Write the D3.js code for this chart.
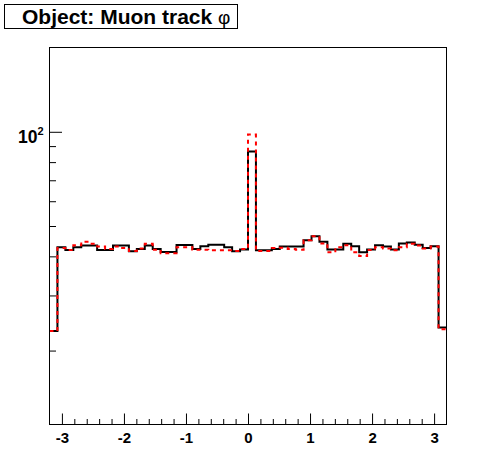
<!DOCTYPE html>
<html>
<head>
<meta charset="utf-8">
<script src="https://cdn.jsdelivr.net/npm/d3@7"></script>
<style>
  body { margin: 0; background: #fff; }
  svg { display: block; }
  .axis text { font-family: "Liberation Sans", Arial, sans-serif; font-weight: bold; fill: #000; }
</style>
</head>
<body>
<div id="chart"></div>
<script>
// 50 bins from -3.2 to 3.2
var binLow = -3.2;
var binHigh = 3.2;
var nBins = 50;

// black (solid) histogram contents
var blackCounts = [23.1, 42.8, 41.9, 42.8, 43.3, 43.3, 41.9, 41.9, 43.3, 43.3,
  41.5, 42.2, 43.3, 42.2, 41.3, 41.3, 43.5, 43.5, 42.2, 43.1,
  43.6, 43.6, 42.8, 41.5, 42.1, 86.5, 41.8, 41.8, 42.2, 43.0,
  43.0, 43.0, 45.0, 46.4, 44.5, 42.1, 42.1, 43.9, 43.1, 41.2,
  42.1, 43.4, 43.0, 42.1, 44.0, 44.3, 43.6, 42.5, 43.1, 23.7];

// red (dashed) histogram contents
var redCounts = [23.1, 42.5, 41.9, 43.4, 44.5, 43.9, 43.0, 42.2, 43.0, 42.5,
  41.6, 42.4, 43.9, 42.0, 40.9, 40.9, 42.8, 42.8, 42.0, 42.0,
  41.8, 41.8, 41.8, 41.6, 42.2, 98.0, 41.6, 41.6, 42.5, 42.6,
  42.2, 42.0, 45.0, 46.4, 44.0, 41.2, 42.8, 43.4, 41.2, 40.1,
  41.9, 42.8, 42.4, 41.8, 42.8, 43.9, 43.3, 42.4, 43.0, 23.4];

var xMajorTicks = [-3, -2, -1, 0, 1, 2, 3];
var yMajorTicks = [100];
var yMinorTicks = [20, 30, 40, 50, 60, 70, 80, 90];
var yRange = [11.61, 185.9];
var titleText = "Object: Muon track ";

var svgWidth = 496;
var svgHeight = 472;
var frame = { left: 49.5, right: 446.5, top: 47.5, bottom: 424.5 };

var svg = d3.select("#chart")
  .append("svg")
  .attr("width", svgWidth)
  .attr("height", svgHeight);

var xScale = d3.scaleLinear()
  .domain([binLow, binHigh])
  .range([frame.left, frame.right]);

var yScale = d3.scaleLog()
  .domain(yRange)
  .range([frame.bottom, frame.top]);

var xMinorTicks = d3.range(-32, 33, 2).map(d => d / 10)
  .filter(d => xMajorTicks.indexOf(Math.round(d * 10) / 10) < 0 && d > binLow && d < binHigh);

// x axis: major + minor ticks pointing into the frame
var xAxisMajor = svg.append("g")
  .attr("class", "axis")
  .attr("transform", `translate(0, ${frame.bottom})`)
  .call(d3.axisBottom(xScale)
    .tickValues(xMajorTicks)
    .tickSize(-11)
    .tickPadding(7.5)
    .tickFormat(d => String(d)));
xAxisMajor.select(".domain").remove();
xAxisMajor.selectAll("text").style("font-size", "15px");

var xAxisMinor = svg.append("g")
  .attr("transform", `translate(0, ${frame.bottom})`)
  .call(d3.axisBottom(xScale).tickValues(xMinorTicks).tickSize(-5.5).tickFormat(""));
xAxisMinor.select(".domain").remove();

// y axis
var yAxisMajor = svg.append("g")
  .attr("class", "axis")
  .attr("transform", `translate(${frame.left}, 0)`)
  .call(d3.axisLeft(yScale).tickValues(yMajorTicks).tickSize(-12.5).tickFormat(""));
yAxisMajor.select(".domain").remove();

var yLabel = yAxisMajor.selectAll(".tick text")
  .attr("x", -6)
  .attr("y", 10.4)
  .attr("dy", null);
yLabel.append("tspan").style("font-size", "17.5px").text("10");
yLabel.append("tspan").style("font-size", "11px").attr("dy", -8).text("2");

var yAxisMinor = svg.append("g")
  .attr("transform", `translate(${frame.left}, 0)`)
  .call(d3.axisLeft(yScale).tickValues(yMinorTicks).tickSize(-6.5).tickFormat(""));
yAxisMinor.select(".domain").remove();

svg.selectAll(".tick line").attr("stroke", "#000").attr("stroke-width", 1);

// histograms as step lines
var binWidth = (binHigh - binLow) / nBins;
function stepPoints(counts) {
  var pts = counts.map((c, i) => [binLow + i * binWidth, c]);
  pts.push([binHigh, counts[counts.length - 1]]);
  return pts;
}

var stepLine = d3.line()
  .x(d => xScale(d[0]))
  .y(d => yScale(d[1]))
  .curve(d3.curveStepAfter);

svg.append("path")
  .datum(stepPoints(blackCounts))
  .attr("d", stepLine)
  .attr("fill", "none")
  .attr("stroke", "#000")
  .attr("stroke-width", 2);

svg.append("path")
  .datum(stepPoints(redCounts))
  .attr("d", stepLine)
  .attr("fill", "none")
  .attr("stroke", "#ff0000")
  .attr("stroke-width", 2)
  .attr("stroke-dasharray", "4,4");

// frame
svg.append("rect")
  .attr("x", frame.left)
  .attr("y", frame.top)
  .attr("width", frame.right - frame.left)
  .attr("height", frame.bottom - frame.top)
  .attr("fill", "none")
  .attr("stroke", "#000")
  .attr("stroke-width", 1);

// title box
svg.append("rect")
  .attr("x", 4.5)
  .attr("y", 4.5)
  .attr("width", 233)
  .attr("height", 24)
  .attr("fill", "#fff")
  .attr("stroke", "#000")
  .attr("stroke-width", 1);

var title = svg.append("text")
  .attr("x", 22)
  .attr("y", 24)
  .style("font-family", "'Liberation Sans', Arial, sans-serif")
  .style("font-weight", "bold")
  .style("font-size", "21px");
title.append("tspan").text(titleText);
title.append("tspan")
  .style("font-weight", "normal")
  .style("font-size", "19px")
  .text("φ");
</script>
</body>
</html>
